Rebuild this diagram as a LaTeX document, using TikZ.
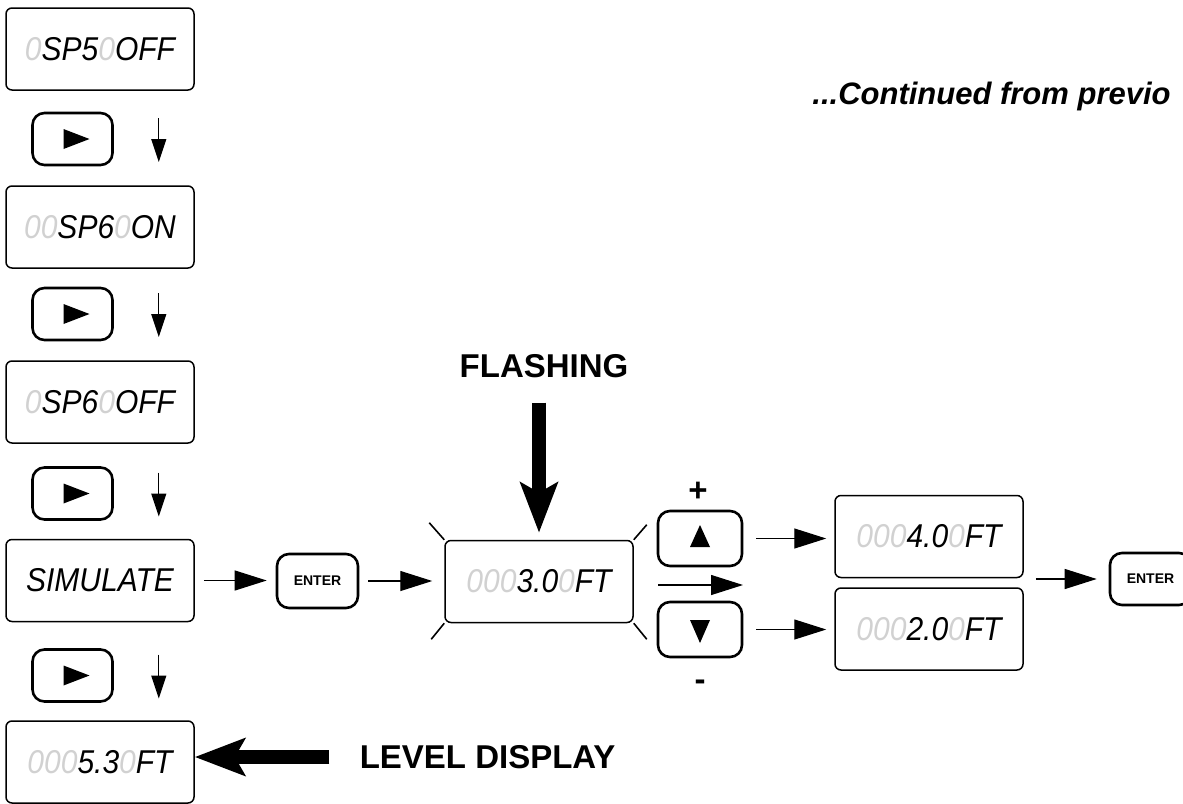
\documentclass[tikz,border=0pt]{standalone}
\usepackage{fontspec}
\setmainfont{Liberation Sans}
\newfontfamily\lcdfont{Liberation Sans}
\usetikzlibrary{calc}
\usetikzlibrary{arrows.meta}
\definecolor{lcdoff}{gray}{0.82}
\newcommand{\dimd}[1]{\textcolor{lcdoff}{#1}}
\newcommand{\lcd}[1]{\scalebox{1}[1.1]{\lcdfont\itshape\fontsize{15}{15}\selectfont #1}}
\newcommand{\playtri}[1]{\fill ($(#1)+(-9,-10)$) -- ($(#1)+(-9,10)$) -- ($(#1)+(17,0)$) -- cycle;}
\tikzset{
  lcdbox/.style={draw, line width=0.75pt, rounded corners=3pt, minimum width=94pt, minimum height=41pt, inner sep=0pt},
  keybox/.style={draw, line width=1.3pt, rounded corners=6pt, minimum width=40pt, minimum height=26pt, inner sep=0pt},
  thinarr/.style={line width=0.6pt, -{Triangle[length=16pt,width=10pt]}},
  downarr/.style={line width=0.6pt, -{Triangle[length=11.5pt,width=7.5pt]}},
  bigarr/.style={line width=7pt, -{Stealth[length=25pt,width=18.5pt,inset=5pt]}},
  ray/.style={line width=0.8pt},
  bigtxt/.style={font=\bfseries\fontsize{16.5}{18}\selectfont, inner sep=0pt}
}

\begin{document}
\begin{tikzpicture}[x=0.5pt,y=-0.5pt]
    \useasboundingbox (0,0) rectangle (1183,803);
    \clip (0,0) rectangle (1183,803);
    %left column
    \node[lcdbox] (sp5off) at (100,49) {\lcd{\dimd{0}SP5\dimd{0}OFF}};
    \node[lcdbox] (sp6on) at (100,227) {\lcd{\dimd{00}SP6\dimd{0}ON}};
    \node[lcdbox] (sp6off) at (100,402) {\lcd{\dimd{0}SP6\dimd{0}OFF}};
    \node[lcdbox] (simul) at (100,580.5) {\lcd{SIMULATE}};
    \node[lcdbox] (lvl) at (100,762) {\lcd{\dimd{000}5.3\dimd{0}FT}};
    \foreach \k/\y in {1/139,2/314,3/493.5,4/675.5} {
        \node[keybox] (key\k) at (72.5,\y) {};
        \playtri{key\k}
        \draw[downarr] ([xshift=22.5pt,yshift=10.5pt]key\k.east) -- ([xshift=22.5pt,yshift=-11.5pt]key\k.east);}
    %enter and flashing value
    \node[keybox, minimum width=40.5pt, minimum height=27pt] (enterA) at (317.5,581) {\bfseries\fontsize{7}{8}\selectfont ENTER};
    \node[lcdbox] (flash) at (539,581.5) {\lcd{\dimd{000}3.0\dimd{0}FT}};
    \node[bigtxt] (flashtxt) at (544,366.5) {FLASHING};
    \foreach \c/\dx/\dy in {north west/-15/-17, north east/13/-15, south west/-13/16, south east/13/16}
        \draw[ray] (flash.\c) -- ++(\dx,\dy);
    \draw[bigarr, shorten <=12pt, shorten >=3.5pt] (flash.north |- flashtxt.south) -- (flash.north);
    \draw[thinarr, shorten <=4.5pt, shorten >=4.5pt] (simul.east) -- (simul.east -| enterA.west);
    \draw[thinarr, shorten <=4.5pt, shorten >=6pt] (enterA.east) -- (enterA.east -| flash.west);
    %up and down
    \node[keybox, minimum width=42pt, minimum height=27.5pt] (upkey) at (700,538.5) {};
    \node[keybox, minimum width=42pt, minimum height=27.5pt] (downkey) at (700,629.5) {};
    \fill ($(upkey)+(-10,8.5)$) -- ($(upkey)+(10,8.5)$) -- ($(upkey)+(0,-13.5)$) -- cycle;
    \fill ($(downkey)+(-10,-9.5)$) -- ($(downkey)+(10,-9.5)$) -- ($(downkey)+(0,13.5)$) -- cycle;
    \node[bigtxt, anchor=base] (plus) at (698,501) {+};
    \node[bigtxt, anchor=base] (minus) at (700,690) {-};
    \coordinate (midL) at (658,585);
    \coordinate (midR) at (743,585);
    \draw[thinarr] (midL) -- (midR);
    \node[lcdbox] (ft4) at (929,536.5) {\lcd{\dimd{000}4.0\dimd{0}FT}};
    \node[lcdbox] (ft2) at (929,629) {\lcd{\dimd{000}2.0\dimd{0}FT}};
    \draw[thinarr, shorten <=6.5pt, shorten >=4pt] (upkey.east) -- (upkey.east -| ft4.west);
    \draw[thinarr, shorten <=6.5pt, shorten >=4pt] (downkey.east) -- (downkey.east -| ft2.west);
    \node[keybox, minimum width=40.5pt, minimum height=26pt] (enterB) at (1150.5,579) {\bfseries\fontsize{7}{8}\selectfont ENTER};
    \draw[thinarr, shorten <=6pt, shorten >=6pt] (enterB.west -| ft4.east) -- (enterB.west);
    %labels
    \node[bigtxt] (leveltxt) at (487.5,757) {LEVEL DISPLAY};
    \draw[bigarr, shorten <=15pt] (leveltxt.west) -- (leveltxt.west -| lvl.east);
    \node[inner sep=0pt, anchor=base west, font=\bfseries\itshape\fontsize{15.5}{18}\selectfont] (contd) at (812,104) {...Continued from previo};
\end{tikzpicture}
\end{document}
